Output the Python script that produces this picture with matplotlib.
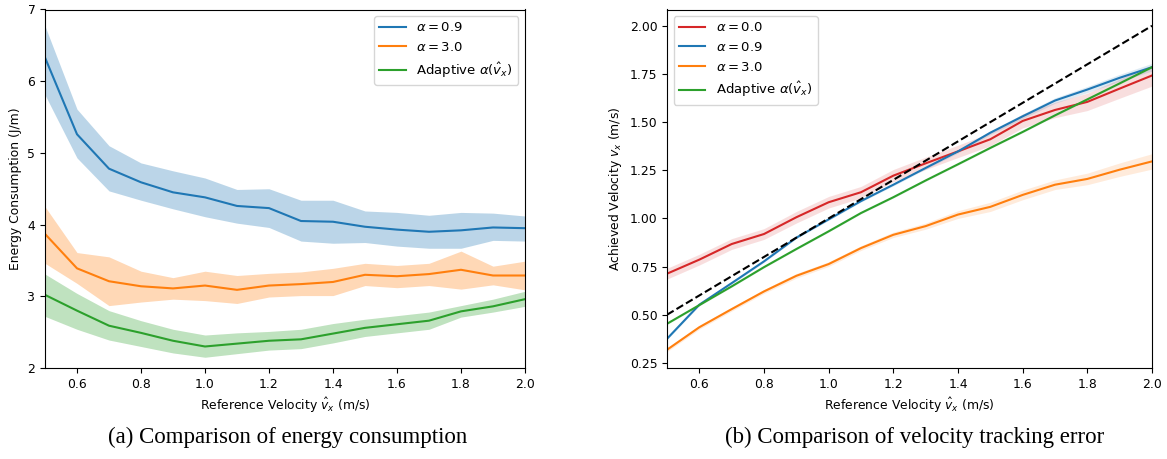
import numpy as np
import matplotlib
matplotlib.use("Agg")
import matplotlib.pyplot as plt

v_ref = [0.5, 0.6, 0.7, 0.8, 0.9, 1.0, 1.1, 1.2, 1.3, 1.4, 1.5, 1.6, 1.7, 1.8, 1.9, 2.0]

# (a) energy consumption (J/m)
e09 = [6.33, 5.26, 4.78, 4.59, 4.45, 4.38, 4.26, 4.23, 4.05, 4.04, 3.97, 3.93, 3.90, 3.92, 3.96, 3.95]
e09_hi = [6.77, 5.61, 5.10, 4.86, 4.75, 4.65, 4.49, 4.50, 4.34, 4.34, 4.19, 4.17, 4.13, 4.17, 4.16, 4.12]
e09_lo = [5.81, 4.93, 4.47, 4.34, 4.22, 4.11, 4.02, 3.96, 3.77, 3.74, 3.75, 3.70, 3.67, 3.67, 3.78, 3.77]

e30 = [3.87, 3.39, 3.21, 3.14, 3.11, 3.15, 3.09, 3.15, 3.17, 3.20, 3.30, 3.28, 3.31, 3.37, 3.29, 3.29]
e30_hi = [4.25, 3.61, 3.55, 3.35, 3.26, 3.35, 3.29, 3.32, 3.34, 3.39, 3.46, 3.43, 3.46, 3.63, 3.42, 3.49]
e30_lo = [3.46, 3.18, 2.87, 2.92, 2.96, 2.94, 2.90, 2.99, 3.01, 3.01, 3.15, 3.12, 3.15, 3.10, 3.16, 3.09]

e_ad = [3.02, 2.80, 2.59, 2.49, 2.38, 2.30, 2.34, 2.38, 2.40, 2.48, 2.56, 2.61, 2.66, 2.79, 2.86, 2.96]
e_ad_hi = [3.31, 3.04, 2.80, 2.66, 2.54, 2.46, 2.49, 2.51, 2.54, 2.62, 2.68, 2.73, 2.78, 2.87, 2.96, 3.07]
e_ad_lo = [2.72, 2.54, 2.39, 2.30, 2.21, 2.15, 2.20, 2.25, 2.27, 2.35, 2.44, 2.49, 2.54, 2.71, 2.78, 2.86]

# (b) achieved velocity (m/s)
v00 = [0.713, 0.786, 0.867, 0.919, 1.006, 1.084, 1.136, 1.222, 1.286, 1.348, 1.411, 1.506, 1.563, 1.605, 1.674, 1.742]
v00_sd = [0.028, 0.028, 0.028, 0.028, 0.03, 0.03, 0.03, 0.032, 0.032, 0.032, 0.034, 0.036, 0.04, 0.045, 0.05, 0.055]
v09 = [0.375, 0.552, 0.664, 0.777, 0.900, 0.995, 1.090, 1.175, 1.262, 1.348, 1.445, 1.530, 1.612, 1.669, 1.730, 1.785]
v09_sd = [0.005, 0.005, 0.005, 0.005, 0.005, 0.005, 0.005, 0.006, 0.006, 0.008, 0.01, 0.012, 0.014, 0.016, 0.018, 0.02]
v30 = [0.318, 0.435, 0.529, 0.621, 0.702, 0.763, 0.846, 0.915, 0.960, 1.020, 1.060, 1.122, 1.175, 1.205, 1.253, 1.296]
v30_sd = [0.01, 0.01, 0.01, 0.01, 0.012, 0.012, 0.012, 0.014, 0.016, 0.02, 0.024, 0.025, 0.025, 0.03, 0.035, 0.04]
v_ad = [0.453, 0.550, 0.647, 0.747, 0.841, 0.933, 1.028, 1.110, 1.197, 1.281, 1.366, 1.449, 1.535, 1.618, 1.701, 1.785]
v_ad_sd = [0.004] * 16

C_BLUE, C_ORANGE, C_GREEN, C_RED = "#1f77b4", "#ff7f0e", "#2ca02c", "#d62728"

fig = plt.figure(figsize=(11.67, 4.59), dpi=100)
W, H = 1167, 459
ax1 = fig.add_axes([45 / W, 1 - 368 / H, (525 - 45) / W, (368 - 9.5) / H])
ax2 = fig.add_axes([667 / W, 1 - 368 / H, (1152 - 667) / W, (368 - 9.5) / H])

FS = 8.9
LFS = 9.5
x = np.array(v_ref)

ax1.plot(x, e09, color=C_BLUE, lw=1.5, label=r"$\alpha = 0.9$")
ax1.fill_between(x, e09_lo, e09_hi, color=C_BLUE, alpha=0.3, lw=0)
ax1.plot(x, e30, color=C_ORANGE, lw=1.5, label=r"$\alpha = 3.0$")
ax1.fill_between(x, e30_lo, e30_hi, color=C_ORANGE, alpha=0.3, lw=0)
ax1.plot(x, e_ad, color=C_GREEN, lw=1.5, label=r"Adaptive $\alpha(\hat{v}_x)$")
ax1.fill_between(x, e_ad_lo, e_ad_hi, color=C_GREEN, alpha=0.3, lw=0)
ax1.set_xlim(0.5, 2.0)
ax1.set_ylim(2, 7)
ax1.set_xlabel(r"Reference Velocity $\hat{v}_x$ (m/s)", fontsize=FS)
ax1.set_ylabel("Energy Consumption (J/m)", fontsize=FS)
ax1.tick_params(labelsize=FS)
ax1.legend(loc="upper right", fontsize=LFS)

for vals, sd, c, lab in [(v00, v00_sd, C_RED, r"$\alpha = 0.0$"),
                         (v09, v09_sd, C_BLUE, r"$\alpha = 0.9$"),
                         (v30, v30_sd, C_ORANGE, r"$\alpha = 3.0$"),
                         (v_ad, v_ad_sd, C_GREEN, r"Adaptive $\alpha(\hat{v}_x)$")]:
    vals = np.array(vals); sd = np.array(sd)
    ax2.plot(x, vals, color=c, lw=1.5, label=lab)
    ax2.fill_between(x, vals - sd, vals + sd, color=c, alpha=0.15, lw=0)
ax2.plot(x, x, "k--", lw=1.5)
ax2.set_xlim(0.5, 2.0)
ax2.set_xlabel(r"Reference Velocity $\hat{v}_x$ (m/s)", fontsize=FS)
ax2.set_ylabel(r"Achieved Velocity $v_x$ (m/s)", fontsize=FS)
ax2.tick_params(labelsize=FS)
ax2.legend(loc="upper left", fontsize=LFS)

fig.text(288 / W, 1 - 437 / H, "(a) Comparison of energy consumption",
         family="Liberation Serif", fontsize=16.5, ha="center", va="center")
fig.text(915 / W, 1 - 437 / H, "(b) Comparison of velocity tracking error",
         family="Liberation Serif", fontsize=16.5, ha="center", va="center")

fig.savefig("out.png", dpi=100)
